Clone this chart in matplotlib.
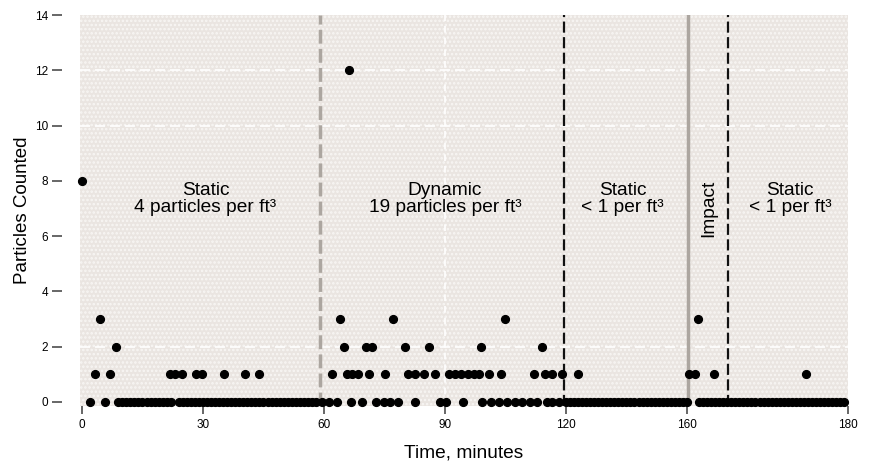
import matplotlib.pyplot as plt
from matplotlib.patches import Rectangle

plt.rcParams['font.family'] = ['Liberation Sans', 'DejaVu Sans']

t_zero = [2.0, 5.7, 9, 10, 11, 12, 13, 14, 15, 16, 17, 18, 19, 20, 21, 22,
          24, 25, 26, 27, 28, 29, 30, 31, 32, 33, 34, 35, 36, 37, 38, 39, 40,
          41, 42, 43, 44, 45, 46, 47, 48, 49, 50, 51, 52, 53, 54, 55, 56, 57,
          58, 59.6, 61.3, 63.3, 66.7, 69.4, 72.8, 74.8, 76.4, 78.3, 82.6,
          88.7, 90.3, 94.4, 99.3, 101.3, 103.4, 105.5, 107.4, 109.2, 111.1,
          112.8, 115.3, 116.5, 118.2, 120, 121, 122, 123, 124, 125, 126, 127,
          128, 129, 130, 131, 132, 133, 134, 135, 136, 137, 138, 139, 140,
          141, 142, 143, 144, 145, 146, 147, 148, 149, 150, 153, 154, 155,
          156, 157, 158, 159, 160, 161, 162, 163, 164, 165, 166, 167, 168,
          169, 170, 171, 172, 173, 174, 175, 176, 177, 178, 179, 180, 181,
          182, 183, 184, 185, 186, 187, 188, 189]
t_one = [3.2, 6.9, 21.7, 23.1, 24.8, 28.2, 29.7, 35.2, 40.5, 43.9, 62.0,
         65.8, 67.0, 68.5, 71.1, 75.1, 80.9, 82.6, 84.9, 87.6, 90.9, 92.4,
         94.0, 95.6, 97.3, 98.4, 101.0, 103.8, 112.0, 114.9, 116.5, 119.0,
         123.1, 150.6, 152.1, 156.7, 179.6]
t_two = [8.4, 65.0, 70.3, 71.9, 80.1, 86.1, 98.9, 114.1]
t_three = [4.4, 64.0, 77.0, 105.0, 152.8]
t_eight = [0.0]
t_twelve = [66.2]

y_ticks = [0, 2, 4, 6, 8, 10, 12, 14]
x_tick_pos = [0, 30, 60, 90, 120, 150, 190]
x_tick_labels = ['0', '30', '60', '90', '120', '160', '180']

phases = ['Static\n4 particles per ft³', 'Dynamic\n19 particles per ft³',
          'Static\n< 1 per ft³', 'Static\n< 1 per ft³']
phase_x = [30.6, 90, 134, 175.6]

fig = plt.figure(figsize=(8.77, 4.70), dpi=100)
ax = fig.add_axes([0.0912, 0.136, 0.876, 0.832])
ax.set_xlim(-0.5, 189.5)
ax.set_ylim(-0.15, 14)

# dotted background
ax.set_facecolor('#eae5e1')
plt.rcParams['hatch.linewidth'] = 1.2
ax.add_patch(Rectangle((0, 0), 1, 1, transform=ax.transAxes, facecolor='none',
                       edgecolor='#f8f6f4', hatch='....', linewidth=0, zorder=0))

for y in [2, 10, 12]:
    ax.axhline(y, color='white', lw=1.2, ls=(0, (6, 3)), zorder=1)
ax.axvline(90, color='white', lw=1.2, ls=(0, (4, 3)), zorder=1)

# phase boundaries
ax.axvline(59, color='#aca6a0', lw=2.5, ls=(0, (4, 1.5)), zorder=2)
ax.axvline(119.5, color='#111111', lw=1.6, ls=(0, (5, 2)), zorder=2)
ax.axvline(150.2, color='#aca6a0', lw=2.5, zorder=2)
ax.axvline(160.3, color='#111111', lw=1.6, ls=(0, (5, 2)), zorder=2)

for ts, v in [(t_zero, 0), (t_one, 1), (t_two, 2), (t_three, 3),
              (t_eight, 8), (t_twelve, 12)]:
    ax.plot(ts, [v] * len(ts), 'o', color='black', ms=5.6, mec='black',
            clip_on=False, zorder=3)

for label, x in zip(phases, phase_x):
    ax.text(x, 7.34, label, ha='center', va='center', fontsize=13.8,
            linespacing=1.05, zorder=4)
ax.text(155.4, 7.0, 'Impact', rotation=90, ha='center', va='center',
        fontsize=13.8, zorder=4)

for s in ax.spines.values():
    s.set_visible(False)
ax.spines['left'].set_position(('outward', 13))
ax.set_yticks(y_ticks)
ax.set_xticks(x_tick_pos)
ax.set_xticklabels(x_tick_labels)
ax.tick_params(axis='both', length=7, width=1.4, color='#666666',
               labelsize=8.5, pad=3)
ax.tick_params(axis='x', length=6)
ax.set_xlabel('Time, minutes', fontsize=13.8, labelpad=10)
ax.set_ylabel('Particles Counted', fontsize=13.5, labelpad=3)

fig.savefig('out.png', dpi=100)
